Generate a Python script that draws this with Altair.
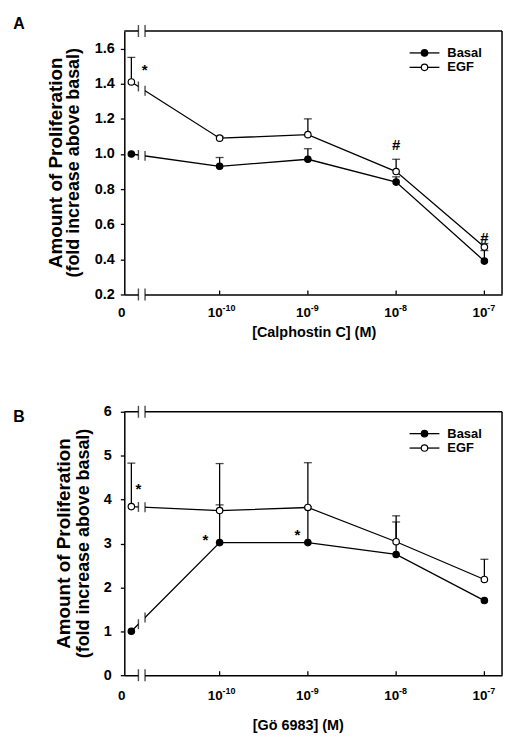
import altair as alt
import pandas as pd

FONT = "Liberation Sans"

# x positions = log10(concentration); the control (0 M) is drawn at -11 (left of the axis break)
conc_pos = [-11, -10, -9, -8, -7]
series_names = ["Basal", "EGF"]

# Panel A - Calphostin C
a_basal = [1.00, 0.93, 0.97, 0.84, 0.39]
a_basal_err = [0.00, 0.05, 0.06, 0.03, 0.06]
a_egf = [1.41, 1.09, 1.11, 0.90, 0.47]
a_egf_err = [0.14, 0.01, 0.09, 0.07, 0.02]
a_marks = ["*", "#", "#"]
a_mark_x = [-10.85, -8, -7]
a_mark_y = [1.48, 1.05, 0.52]

# Panel B - Gö 6983
b_basal = [1.00, 3.02, 3.02, 2.75, 1.70]
b_basal_err = [0.00, 0.86, 0.82, 0.74, 0.00]
b_egf = [3.84, 3.75, 3.82, 3.04, 2.18]
b_egf_err = [0.99, 1.07, 1.02, 0.59, 0.46]
b_marks = ["*", "*", "*"]
b_mark_x = [-10.92, -10.16, -9.12]
b_mark_y = [4.23, 3.09, 3.19]

tick_pos = [-11.1, -10, -9, -8, -7]
tick_base = ["0", "10", "10", "10", "10"]
tick_sup = ["", "-10", "-9", "-8", "-7"]
break_x = [-10.92, -10.845]
x_domain = [-11.08, -6.8]

W, H = 380, 265
BOLD = dict(font=FONT, fontWeight="bold", color="black")


def interp(vals, bx):
    x0, x1 = conc_pos[0], conc_pos[1]
    return vals[0] + (vals[1] - vals[0]) * (bx - x0) / (x1 - x0)


def one(**kw):
    return pd.DataFrame({k: [v] for k, v in kw.items()})


def panel(letter, basal, basal_err, egf, egf_err, marks, mx, my, ydom, yticks, yfmt,
          lab_pad, xtitle, xtitle_pos, ytitle_x, letter_pos, lab_y):
    xs = alt.Scale(domain=x_domain, nice=False, zero=False)
    ys = alt.Scale(domain=ydom, nice=False, zero=False)
    x_axis = alt.Axis(labels=False, ticks=False, grid=False, domainColor="black", domainWidth=1.5)
    y_axis = alt.Axis(values=yticks, format=yfmt, grid=False, tickSize=4, tickWidth=1.3,
                      tickColor="black", domainColor="black", domainWidth=1.5,
                      labelFont=FONT, labelFontSize=14.5, labelFontWeight="bold",
                      labelColor="black", labelPadding=lab_pad)

    def X(f="x"):
        return alt.X(f"{f}:Q", scale=xs, axis=x_axis, title=None)

    def Y(f="y"):
        return alt.Y(f"{f}:Q", scale=ys, axis=y_axis, title=None)

    rows = []
    for name, vals, errs in ((series_names[0], basal, basal_err), (series_names[1], egf, egf_err)):
        for xp, v, e in zip(conc_pos, vals, errs):
            rows.append({"series": name, "x": xp, "y": v, "top": v + e, "err": e})
    df = pd.DataFrame(rows)
    df_err = df[df["err"] > 0]

    fill = alt.Fill("series:N", scale=alt.Scale(domain=series_names, range=["black", "white"]), legend=None)

    frame_r = alt.Chart(one(a=1)).mark_rule(color="black", strokeWidth=1.5).encode(
        x=alt.value(W), y=alt.value(0), y2=alt.value(H))
    frame_t = alt.Chart(one(a=1)).mark_rule(color="black", strokeWidth=1.5).encode(
        x=alt.value(0), x2=alt.value(W), y=alt.value(0))

    xticks = alt.Chart(pd.DataFrame({"x": conc_pos[1:]})).mark_rule(color="black", strokeWidth=1.3).encode(
        x=X(), y=alt.value(H), y2=alt.value(H - 4))

    lines = alt.Chart(df).mark_line(color="black", strokeWidth=1.3).encode(x=X(), y=Y(), detail="series:N")

    cover_rows, bar_rows = [], []
    for yv in ydom:
        cover_rows.append({"x1": break_x[0], "x2": break_x[1], "y": yv, "w": 4})
        for bx in break_x:
            bar_rows.append({"x": bx, "y": yv, "s": 12})
    for vals in (basal, egf):
        mid = (break_x[0] + break_x[1]) / 2
        cover_rows.append({"x1": break_x[0], "x2": break_x[1], "y": interp(vals, mid), "w": 10})
        for bx in break_x:
            bar_rows.append({"x": bx, "y": interp(vals, bx), "s": 10})
    covers = alt.Chart(pd.DataFrame(cover_rows)).mark_rule(color="white", strokeCap="butt").encode(
        x=X("x1"), x2="x2:Q", y=Y(), strokeWidth=alt.StrokeWidth("w:Q", scale=None))
    bars = alt.Chart(pd.DataFrame(bar_rows)).mark_tick(orient="vertical", color="black", thickness=1.4).encode(
        x=X(), y=Y(), size=alt.Size("s:Q", scale=None))

    err_rule = alt.Chart(df_err).mark_rule(color="black", strokeWidth=1.3).encode(x=X(), y=Y(), y2="top:Q")
    err_cap = alt.Chart(df_err).mark_tick(orient="horizontal", color="black", size=8, thickness=1.3).encode(
        x=X(), y=Y("top"))

    points = alt.Chart(df).mark_point(shape="circle", filled=True, size=42, stroke="black",
                                      strokeWidth=1.2, opacity=1).encode(x=X(), y=Y(), fill=fill)

    ann = alt.Chart(pd.DataFrame({"x": mx, "y": my, "t": marks})).mark_text(
        fontSize=15, baseline="middle", **BOLD).encode(x=X(), y=Y(), text="t:N")

    tdf = pd.DataFrame({"x": tick_pos, "b": tick_base, "s": tick_sup})
    tbase = alt.Chart(tdf).mark_text(align="right", baseline="middle", dx=3, fontSize=13.5, **BOLD).encode(
        x=X(), y=alt.value(H + lab_y), text="b:N")
    tsup = alt.Chart(tdf).mark_text(align="left", baseline="middle", dx=3, fontSize=9, **BOLD).encode(
        x=X(), y=alt.value(H + lab_y - 5), text="s:N")

    yt1 = alt.Chart(one(t="Amount of Proliferation")).mark_text(
        angle=270, align="center", baseline="middle", fontSize=19, **BOLD).encode(
        x=alt.value(ytitle_x[0]), y=alt.value(H / 2), text="t:N")
    yt2 = alt.Chart(one(t="(fold increase above basal)")).mark_text(
        angle=270, align="center", baseline="middle", fontSize=18, **BOLD).encode(
        x=alt.value(ytitle_x[1]), y=alt.value(H / 2), text="t:N")
    xt = alt.Chart(one(t=xtitle)).mark_text(align="center", baseline="middle", fontSize=14.5, **BOLD).encode(
        x=alt.value(xtitle_pos[0]), y=alt.value(H + xtitle_pos[1]), text="t:N")
    let = alt.Chart(one(t=letter)).mark_text(align="center", baseline="middle", fontSize=16, **BOLD).encode(
        x=alt.value(letter_pos[0]), y=alt.value(letter_pos[1]), text="t:N")

    leg = pd.DataFrame({"series": series_names, "ly": [22 + 14.5 * i for i in range(len(series_names))]})
    ly = alt.Y("ly:Q", scale=None, axis=None)
    leg_line = alt.Chart(leg).mark_rule(color="black", strokeWidth=1.3).encode(
        x=alt.value(287), x2=alt.value(317), y=ly)
    leg_pt = alt.Chart(leg).mark_point(shape="circle", filled=True, size=42, stroke="black",
                                       strokeWidth=1.2, opacity=1).encode(
        x=alt.value(302), y=ly, fill=fill)
    leg_txt = alt.Chart(leg).mark_text(align="left", baseline="middle", fontSize=13, **BOLD).encode(
        x=alt.value(325), y=ly, text="series:N")

    return alt.layer(lines, frame_r, frame_t, xticks, covers, bars, err_rule, err_cap,
                     points, ann, tbase, tsup, yt1, yt2, xt, let, leg_line, leg_pt, leg_txt
                     ).properties(width=W, height=H)


chart_a = panel("A", a_basal, a_basal_err, a_egf, a_egf_err, a_marks, a_mark_x, a_mark_y,
                [0.2, 1.7], [0.2, 0.4, 0.6, 0.8, 1.0, 1.2, 1.4, 1.6], ".1f", 6,
                "[Calphostin C] (M)", (191, 39), (-69, -51), (-106, -7), 19)
chart_b = panel("B", b_basal, b_basal_err, b_egf, b_egf_err, b_marks, b_mark_x, b_mark_y,
                [0, 6], [0, 1, 2, 3, 4, 5, 6], "d", 9,
                "[Gö 6983] (M)", (175, 51), (-61, -41), (-106, 5), 21)

chart = alt.vconcat(chart_a, chart_b, spacing=64).configure_view(stroke=None).properties(
    padding={"left": 5, "top": 6, "right": 5, "bottom": 5})

chart.save("out.html", embed_options={"renderer": "svg", "actions": False})
